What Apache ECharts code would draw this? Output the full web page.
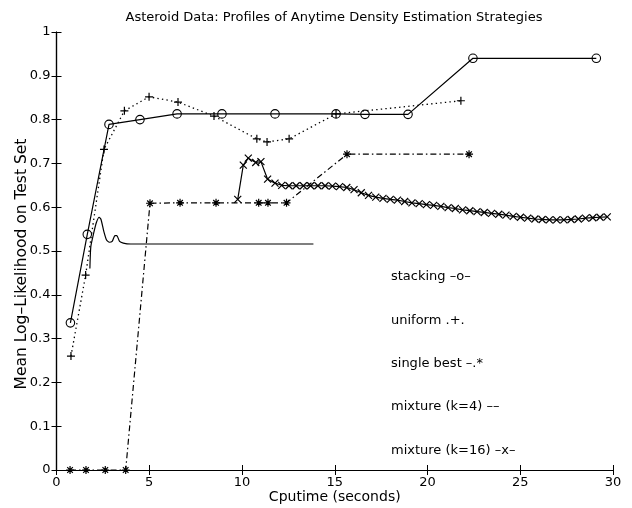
<!DOCTYPE html>
<html>
<head>
<meta charset="utf-8">
<script src="https://cdn.jsdelivr.net/npm/echarts@6/dist/echarts.min.js"></script>
<style>
html,body{margin:0;padding:0;background:#fff;}
#chart{width:632px;height:508px;}
</style>
</head>
<body>
<div id="chart"></div>
<script>
// ---- data ----
var titleText = 'Asteroid Data: Profiles of Anytime Density Estimation Strategies';
var xAxisName = 'Cputime (seconds)';
var yAxisName = 'Mean Log\u2013Likelihood on Test Set';
var seriesNames = ['stacking \u2013o\u2013', 'uniform .+.', 'single best \u2013.*', 'mixture (k=4) \u2013\u2013', 'mixture (k=16) \u2013x\u2013'];

var stackX = [0.75, 1.66, 2.83, 4.5, 6.5, 8.92, 11.78, 15.07, 16.63, 18.95, 22.45, 29.1];
var stackY = [0.336, 0.538, 0.789, 0.80, 0.813, 0.813, 0.813, 0.813, 0.812, 0.812, 0.94, 0.94];

var uniformX = [0.78, 1.57, 2.56, 3.66, 4.99, 6.55, 8.49, 10.8, 11.35, 12.54, 15.07, 21.8];
var uniformY = [0.26, 0.445, 0.732, 0.82, 0.852, 0.84, 0.808, 0.756, 0.749, 0.756, 0.813, 0.843];

var singleX = [0.73, 1.59, 2.63, 3.73, 5.04, 6.66, 8.6, 10.9, 11.4, 12.4, 15.66, 22.24];
var singleY = [0, 0, 0, 0, 0.609, 0.61, 0.61, 0.61, 0.61, 0.61, 0.721, 0.721];

var k4X = [1.8, 1.85, 2.0, 2.15, 2.3, 2.4, 2.55, 2.7, 2.85, 3.0, 3.15, 3.25, 3.4, 3.6, 4.0, 5.0, 13.85];
var k4Y = [0.46, 0.51, 0.54, 0.565, 0.577, 0.572, 0.545, 0.525, 0.52, 0.522, 0.535, 0.535, 0.522, 0.518, 0.516, 0.516, 0.516];

var k16X = [9.77, 10.07, 10.34, 10.74, 11.02, 11.38, 11.78,
  12.14, 12.53, 12.92, 13.31, 13.70, 14.09, 14.48, 14.87, 15.26, 15.65,
  16.04, 16.43, 16.82, 17.21, 17.60, 17.99, 18.38, 18.77, 19.16, 19.55,
  19.94, 20.33, 20.72, 21.11, 21.50, 21.89, 22.28, 22.67, 23.06, 23.45,
  23.84, 24.23, 24.62, 25.01, 25.40, 25.79, 26.18, 26.57, 26.96, 27.35,
  27.74, 28.13, 28.52, 28.91, 29.30, 29.69];
var k16Y = [0.618, 0.696, 0.712, 0.702, 0.704, 0.664, 0.655,
  0.650, 0.649, 0.649, 0.649, 0.649, 0.649, 0.649, 0.648, 0.647, 0.645,
  0.640, 0.633, 0.627, 0.623, 0.620, 0.618, 0.616, 0.613, 0.610, 0.608,
  0.606, 0.604, 0.602, 0.599, 0.597, 0.594, 0.592, 0.590, 0.588, 0.586,
  0.584, 0.582, 0.579, 0.577, 0.575, 0.573, 0.572, 0.571, 0.571, 0.571,
  0.572, 0.573, 0.575, 0.576, 0.577, 0.578];

function pairs(xs, ys) {
  var out = [];
  for (var i = 0; i < xs.length; i++) out.push([xs[i], ys[i]]);
  return out;
}

var FONT = 'DejaVu Sans, Liberation Sans, Arial, sans-serif';
var chart = echarts.init(document.getElementById('chart'), null, {renderer: 'canvas'});

var hollow = {color: 'none', borderColor: '#000', borderWidth: 1.1};
var strokeSym = {color: 'none', borderColor: '#000', borderWidth: 1.2};

function baseX(extra) {
  return Object.assign({
    type: 'value', min: 0, max: 30, interval: 5,
    axisLine: {show: true, lineStyle: {color: '#000', width: 1.2}},
    axisTick: {show: true, inside: true, length: 5, lineStyle: {color: '#000'}},
    splitLine: {show: false}
  }, extra);
}
function baseY(extra) {
  return Object.assign({
    type: 'value', min: 0, max: 1, interval: 0.1,
    axisLine: {show: true, lineStyle: {color: '#000', width: 1.2}},
    axisTick: {show: true, inside: true, length: 5, lineStyle: {color: '#000'}},
    splitLine: {show: false}
  }, extra);
}

var option = {
  backgroundColor: '#fff',
  animation: false,
  title: {
    text: titleText, left: 329, top: 6, textAlign: 'center',
    textStyle: {fontFamily: FONT, fontSize: 13, fontWeight: 'normal', color: '#000'}
  },
  grid: {left: 56.5, right: 19, top: 32, bottom: 38, containLabel: false, outerBoundsMode: 'none'},
  legend: {
    data: seriesNames, orient: 'vertical', left: 381, top: 265,
    icon: 'none', itemWidth: 0, itemHeight: 14, itemGap: 29.8,
    selectedMode: false,
    textStyle: {fontFamily: FONT, fontSize: 13, color: '#000'}
  },
  xAxis: [
    baseX({
      position: 'bottom',
      name: xAxisName, nameLocation: 'middle', nameGap: 20, nameMoveOverlap: false,
      nameTextStyle: {fontFamily: FONT, fontSize: 14, color: '#000'},
      axisLabel: {fontFamily: FONT, fontSize: 13, color: '#000', margin: 6}
    }),
    baseX({position: 'top', axisLabel: {show: false}})
  ],
  yAxis: [
    baseY({
      position: 'left',
      name: yAxisName, nameLocation: 'middle', nameGap: 26.5, nameRotate: 90, nameMoveOverlap: false,
      nameTextStyle: {fontFamily: FONT, fontSize: 15.5, color: '#000', padding: [0, 26, 0, 0]},
      axisLabel: {fontFamily: FONT, fontSize: 13, color: '#000', margin: 6}
    }),
    baseY({position: 'right', axisLabel: {show: false}})
  ],
  series: [
    {
      name: seriesNames[0], type: 'line', data: pairs(stackX, stackY),
      symbol: 'circle', symbolSize: 8.5, showAllSymbol: true,
      lineStyle: {color: '#000', width: 1.2, type: 'solid'},
      itemStyle: hollow
    },
    {
      name: seriesNames[1], type: 'line', data: pairs(uniformX, uniformY),
      symbol: 'path://M5,0L5,10M0,5L10,5', symbolSize: 8,
      lineStyle: {color: '#000', width: 1.3, type: [1.4, 3.2]},
      itemStyle: strokeSym
    },
    {
      name: seriesNames[2], type: 'line', data: pairs(singleX, singleY),
      symbol: 'path://M5,0L5,10M0,5L10,5M1.5,1.5L8.5,8.5M1.5,8.5L8.5,1.5', symbolSize: 8,
      lineStyle: {color: '#000', width: 1.2, type: [6, 3, 1.5, 3]},
      itemStyle: strokeSym
    },
    {
      name: seriesNames[3], type: 'line', data: pairs(k4X, k4Y),
      symbol: 'none', smooth: 0.2,
      lineStyle: {color: '#000', width: 1.2, type: 'solid'},
      itemStyle: {color: '#000'}
    },
    {
      name: seriesNames[4], type: 'line', data: pairs(k16X, k16Y),
      symbol: 'path://M0,0L10,10M0,10L10,0', symbolSize: 7, showAllSymbol: true,
      lineStyle: {color: '#000', width: 1.2, type: 'solid'},
      itemStyle: strokeSym
    }
  ]
};
chart.setOption(option);
</script>
</body>
</html>
